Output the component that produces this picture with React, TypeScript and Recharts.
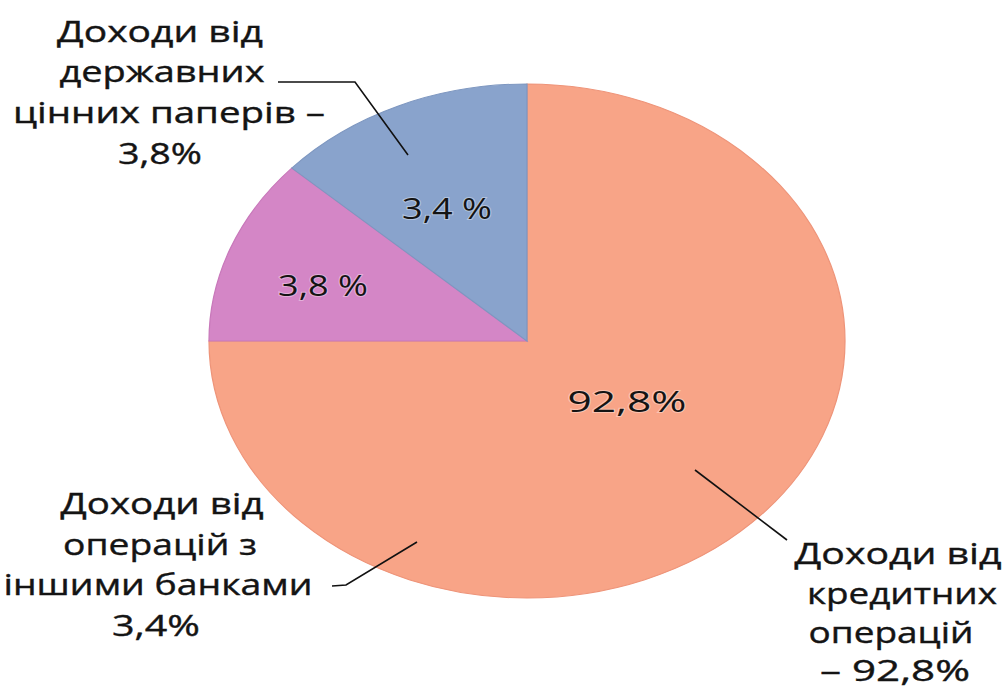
import { Cell, Pie, PieChart } from "recharts";

// slice shares as drawn in the picture (the drawing is not to scale with its labels)
const sliceNames = ["Кредитні операції", "Операції з іншими банками", "Державні цінні папери"];
const sliceShares = [75, 11.75, 13.25];
const sliceColors = ["#F8A487", "#D486C6", "#89A3CC"];
const sliceEdges = ["#EE9479", "#C878BA", "#7E97C0"];

const innerLabels = ["92,8%", "3,8 %", "3,4 %"];

const govLabel = ["Доходи від", "державних", "цінних паперів –", "3,8%"];
const banksLabel = ["Доходи від", "операцій з", "іншими банками", "3,4%"];
const creditLabel = ["Доходи від", "кредитних", "операцій", "– 92,8%"];

const data = sliceNames.map((name, i) => ({ name, value: sliceShares[i] }));

// layout
const BOX = 520;
const RY = 257;
const RX = 318;
const CX = 527;
const CY = 341;
const SX = RX / RY;

const FONT = "'Open Sans', 'Noto Sans', sans-serif";

type Line = { x: number; y: number; w: number };

const govPos: Line[] = [
  { x: 160, y: 42, w: 206 },
  { x: 162, y: 82, w: 205 },
  { x: 169, y: 123, w: 312 },
  { x: 160, y: 164, w: 84 }
];
const banksPos: Line[] = [
  { x: 162, y: 514, w: 203 },
  { x: 160, y: 555, w: 194 },
  { x: 158, y: 595, w: 309 },
  { x: 156, y: 636, w: 88 }
];
const creditPos: Line[] = [
  { x: 898, y: 564, w: 207 },
  { x: 902, y: 604, w: 190 },
  { x: 891, y: 643, w: 165 },
  { x: 895, y: 681, w: 150 }
];
const innerPos: Line[] = [
  { x: 627, y: 412, w: 119 },
  { x: 323, y: 296, w: 90 },
  { x: 447, y: 219, w: 90 }
];

function TextBlock({ lines, pos, halo }: { lines: string[]; pos: Line[]; halo?: boolean }) {
  return (
    <g>
      {lines.map((t, i) => (
        <text
          key={i}
          x={pos[i].x}
          y={pos[i].y}
          textAnchor="middle"
          textLength={pos[i].w}
          lengthAdjust="spacingAndGlyphs"
          fontFamily={FONT}
          fontSize={30}
          fill="#141414"
          stroke={halo ? "rgba(255,255,255,0.35)" : "#141414"}
          strokeWidth={halo ? 2 : 0.4}
          paintOrder="stroke"
        >
          {t}
        </text>
      ))}
    </g>
  );
}

export default function App() {
  return (
    <div
      style={{
        position: "absolute",
        left: 0,
        top: 0,
        width: 1006,
        height: 691,
        background: "#fff",
        overflow: "hidden"
      }}
    >
      <div
        style={{
          position: "absolute",
          left: CX - BOX / 2,
          top: CY - BOX / 2,
          width: BOX,
          height: BOX,
          transform: `scaleX(${SX})`,
          transformOrigin: `${BOX / 2}px ${BOX / 2}px`
        }}
      >
        <PieChart width={BOX} height={BOX} margin={{ top: 0, right: 0, bottom: 0, left: 0 }}>
          <Pie
            data={data}
            dataKey="value"
            nameKey="name"
            cx={BOX / 2}
            cy={BOX / 2}
            innerRadius={0}
            outerRadius={RY}
            startAngle={90}
            endAngle={-270}
            isAnimationActive={false}
            strokeWidth={1}
          >
            {data.map((d, i) => (
              <Cell key={d.name} fill={sliceColors[i]} stroke={sliceEdges[i]} />
            ))}
          </Pie>
        </PieChart>
      </div>
      <svg
        width={1006}
        height={691}
        style={{ position: "absolute", left: 0, top: 0, pointerEvents: "none" }}
      >
        <polyline points="278,82 355,82 408,155" fill="none" stroke="#111" strokeWidth={1.6} />
        <polyline points="332,586 346,585 417,542" fill="none" stroke="#111" strokeWidth={1.6} />
        <polyline points="695,470 787,540" fill="none" stroke="#111" strokeWidth={1.6} />
        <TextBlock lines={govLabel} pos={govPos} />
        <TextBlock lines={banksLabel} pos={banksPos} />
        <TextBlock lines={creditLabel} pos={creditPos} />
        <TextBlock lines={innerLabels} pos={innerPos} halo />
      </svg>
    </div>
  );
}
